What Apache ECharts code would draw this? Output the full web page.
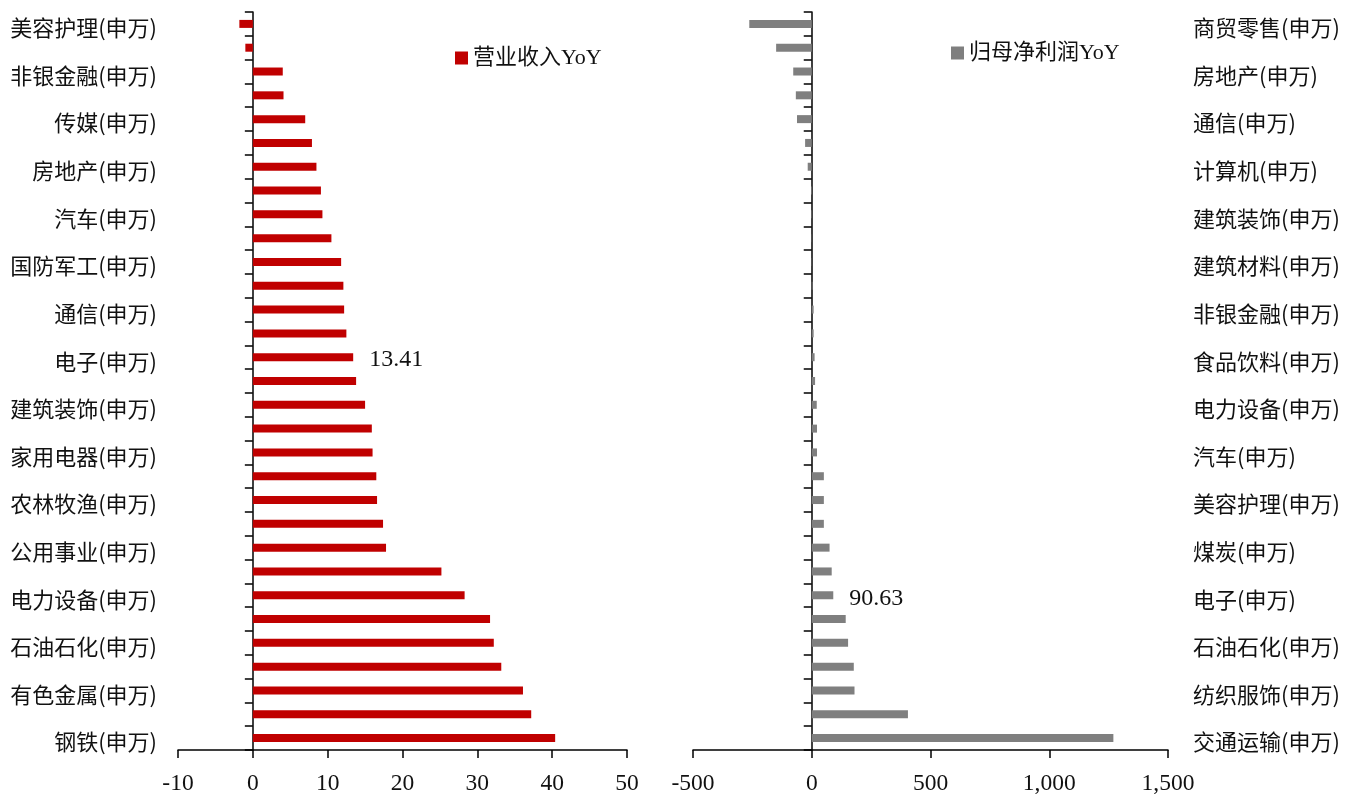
<!DOCTYPE html>
<html><head><meta charset="utf-8">
<script src="https://cdn.jsdelivr.net/npm/echarts@6/dist/echarts.min.js"></script>
<style>html,body{margin:0;padding:0;background:#fff}#c{width:1348px;height:796px}</style>
</head><body><div id="c"></div>
<script>
// ---- data ----
const revCategories = ['美容护理(申万)','医药生物(申万)','非银金融(申万)','银行(申万)','传媒(申万)','食品饮料(申万)','房地产(申万)','计算机(申万)','汽车(申万)','社会服务(申万)','国防军工(申万)','轻工制造(申万)','通信(申万)','建筑材料(申万)','电子(申万)','环保(申万)','建筑装饰(申万)','基础化工(申万)','家用电器(申万)','机械设备(申万)','农林牧渔(申万)','纺织服饰(申万)','公用事业(申万)','商贸零售(申万)','电力设备(申万)','煤炭(申万)','石油石化(申万)','交通运输(申万)','有色金属(申万)','综合(申万)','钢铁(申万)'];
const revValues = [-1.8,-1.0,4.0,4.1,7.0,7.9,8.5,9.1,9.3,10.5,11.8,12.1,12.2,12.5,13.41,13.8,15.0,15.9,16.0,16.5,16.6,17.4,17.8,25.2,28.3,31.7,32.2,33.2,36.1,37.2,40.4];
const revTicks = [-10,0,10,20,30,40,50];

const profitCategories = ['商贸零售(申万)','社会服务(申万)','房地产(申万)','医药生物(申万)','通信(申万)','传媒(申万)','计算机(申万)','银行(申万)','建筑装饰(申万)','环保(申万)','建筑材料(申万)','综合(申万)','非银金融(申万)','公用事业(申万)','食品饮料(申万)','农林牧渔(申万)','电力设备(申万)','机械设备(申万)','汽车(申万)','家用电器(申万)','美容护理(申万)','基础化工(申万)','煤炭(申万)','轻工制造(申万)','电子(申万)','国防军工(申万)','石油石化(申万)','有色金属(申万)','纺织服饰(申万)','钢铁(申万)','交通运输(申万)'];
const profitValues = [-263,-150,-78,-67,-62,-28,-17,-3,-2,-1,1,3,8,8,12,14,21,22,22,51,51,51,75,84,90.63,143,153,177,180,405,1270];
const profitTicks = [-500,0,500,1000,1500];

const revName = '营业收入YoY';
const profitName = '归母净利润YoY';
const highlightCategory = '电子(申万)';

// ---- styles ----
const SANS = '"Noto Sans CJK SC", "Noto Sans", sans-serif';
const SERIF = '"Liberation Serif", "Noto Sans CJK SC", serif';
const TXT = '#111';
const LINE = {color:'#000', width:1.5};

function valueAxis(gi, ticks){
  return {gridIndex:gi, type:'value', min:ticks[0], max:ticks[ticks.length-1], interval:ticks[1]-ticks[0],
    axisLine:{show:true, onZero:false, lineStyle:LINE},
    axisTick:{show:true, length:8, lineStyle:LINE},
    axisLabel:{fontFamily:SERIF, fontSize:23.5, color:TXT, margin:22,
      formatter:v=>Number(v).toLocaleString('en-US')},
    splitLine:{show:false}};
}
function lineAxis(gi, cats){
  return {gridIndex:gi, type:'category', inverse:true, data:cats, position:'left',
    axisLine:{show:true, onZero:true, lineStyle:LINE},
    axisTick:{show:true, interval:0, length:8, lineStyle:LINE},
    axisLabel:{show:false}, splitLine:{show:false}};
}
function labelAxis(gi, cats, pos, margin){
  return {gridIndex:gi, type:'category', inverse:true, data:cats, position:pos,
    axisLine:{show:false, onZero:false}, axisTick:{show:false},
    axisLabel:{interval:1, margin:margin, formatter:v=>'{a|'+v+'}',
      rich:{a:{fontFamily:SANS, fontSize:22, color:TXT, padding:[8,0,0,0]}}},
    splitLine:{show:false}};
}
function barData(cats, vals){
  const hi = cats.indexOf(highlightCategory);
  return vals.map((v,i)=> i===hi ? {value:v, label:{show:true, position:'right', distance:16, offset:[0,3],
    fontFamily:SERIF, fontSize:24, color:TXT, formatter:String(v)}} : v);
}

const chart = echarts.init(document.getElementById('c'));
chart.setOption({
  animation:false,
  backgroundColor:'#fff',
  grid:[
    {left:178, right:721, top:12, bottom:46, containLabel:false, outerBoundsMode:'none'},
    {left:693, right:180, top:12, bottom:46, containLabel:false, outerBoundsMode:'none'}
  ],
  legend:[
    {data:[revName], left:450, top:42, icon:'rect', itemWidth:13, itemHeight:13,
      textStyle:{fontFamily:SERIF, fontSize:22, color:TXT}},
    {data:[profitName], left:946, top:37, icon:'rect', itemWidth:13, itemHeight:13,
      textStyle:{fontFamily:SERIF, fontSize:22, color:TXT}}
  ],
  xAxis:[valueAxis(0, revTicks), valueAxis(1, profitTicks)],
  yAxis:[lineAxis(0, revCategories), labelAxis(0, revCategories, 'left', 21),
         lineAxis(1, profitCategories), labelAxis(1, profitCategories, 'right', 25)],
  series:[
    {type:'bar', name:revName, xAxisIndex:0, yAxisIndex:0, barWidth:8,
      itemStyle:{color:'#C00000'}, data:barData(revCategories, revValues)},
    {type:'bar', name:profitName, xAxisIndex:1, yAxisIndex:2, barWidth:8,
      itemStyle:{color:'#7F7F7F'}, data:barData(profitCategories, profitValues)}
  ]
});
</script></body></html>
